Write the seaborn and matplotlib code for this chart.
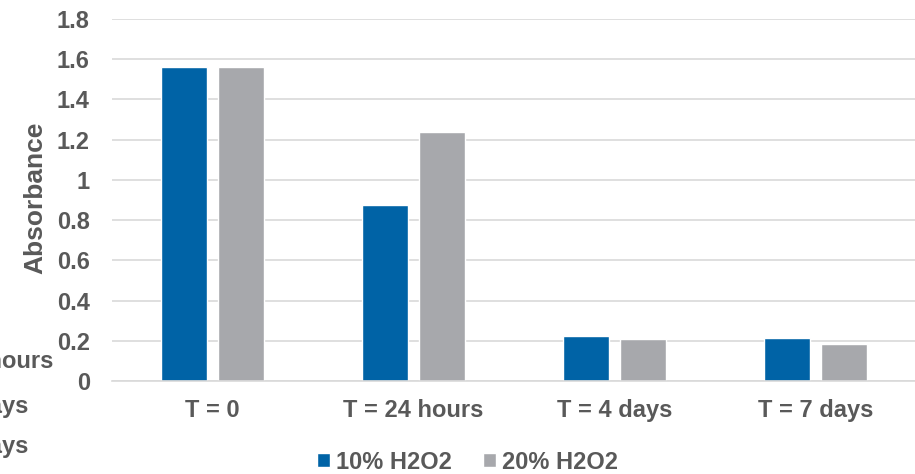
import matplotlib
matplotlib.use("Agg")
import matplotlib.pyplot as plt
import seaborn as sns
import pandas as pd
from matplotlib.patches import Patch

categories = ["T = 0", "T = 24 hours", "T = 4 days", "T = 7 days"]
series_names = ["10% H2O2", "20% H2O2"]
h2o2_10 = [1.56, 0.875, 0.225, 0.215]
h2o2_20 = [1.56, 1.24, 0.21, 0.185]
yticks = [0, 0.2, 0.4, 0.6, 0.8, 1, 1.2, 1.4, 1.6, 1.8]
ytick_labels = ["0", "0.2", "0.4", "0.6", "0.8", "1", "1.2", "1.4", "1.6", "1.8"]

df = pd.DataFrame({
    "time": categories * 2,
    "value": h2o2_10 + h2o2_20,
    "series": [series_names[0]] * 4 + [series_names[1]] * 4,
})

sns.set_style("white")
plt.rcParams["font.family"] = ["Liberation Sans", "DejaVu Sans"]
plt.rcParams["font.weight"] = "bold"
TXT = "#595959"
FS = 17

fig = plt.figure(figsize=(9.15, 4.74), dpi=100)
ax = fig.add_axes([112 / 915, 1 - 381 / 474, 804 / 915, 362 / 474])

sns.barplot(data=df, x="time", y="value", hue="series", order=categories,
            hue_order=series_names, palette=["#0063A6", "#A7A8AC"],
            width=0.567, gap=0.19, ax=ax, legend=False, saturation=1)

ax.set_xlim(-0.5, 3.5)
ax.set_ylim(0, 1.8)
ax.set_yticks(yticks)
ax.set_yticklabels(ytick_labels)
ax.yaxis.grid(True, color="#D9D9D9", linewidth=1.2)
ax.set_axisbelow(True)
for s in ["top", "right", "left"]:
    ax.spines[s].set_visible(False)
ax.spines["bottom"].set_color("#D9D9D9")
ax.spines["bottom"].set_linewidth(1.2)
ax.tick_params(axis="both", length=0, colors=TXT, labelsize=FS)
ax.tick_params(axis="y", pad=16)
ax.tick_params(axis="x", pad=13)
for t in ax.get_xticklabels() + ax.get_yticklabels():
    t.set_fontweight("bold")
ax.set_xlabel("")
ax.set_ylabel("Absorbance", fontsize=19, fontweight="bold", color=TXT)
ax.yaxis.set_label_coords((47 - 112) / 804, 0.505)

handles = [Patch(facecolor="#0063A6"), Patch(facecolor="#A7A8AC")]
leg = fig.legend(handles, series_names, loc="center", bbox_to_anchor=(0.511, 0.025),
                 ncol=2, frameon=False, handlelength=0.55, handleheight=0.55,
                 handletextpad=0.25, columnspacing=1.3,
                 prop={"size": FS, "weight": "bold"})
for t in leg.get_texts():
    t.set_color(TXT)

# clipped category labels at the left edge (as in the reference)
for lab, xr, yc in zip(categories[1:], [53, 28, 28], [362, 407, 446]):
    fig.text(xr / 915, 1 - yc / 474, lab, ha="right", va="center",
             fontsize=FS, fontweight="bold", color=TXT)

fig.savefig("out.png", dpi=100)
